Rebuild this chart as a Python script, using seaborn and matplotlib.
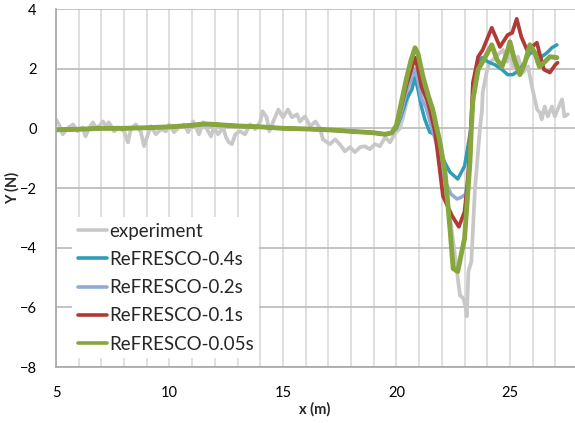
import numpy as np
import pandas as pd
import matplotlib
matplotlib.use("Agg")
import matplotlib.pyplot as plt
import seaborn as sns
from matplotlib.ticker import MultipleLocator

# ---------------- data ----------------
exp_x = [5.0, 5.13, 5.3, 5.5, 5.75, 5.95, 6.17, 6.3, 6.45, 6.63, 6.76, 6.9, 7.07, 7.2, 7.33, 7.56, 7.77,
         8.0, 8.17, 8.3, 8.52, 8.74, 8.88, 9.05, 9.18, 9.4, 9.62, 9.85, 9.98, 10.2, 10.42, 10.64, 10.82,
         11.04, 11.17, 11.3, 11.48, 11.7, 11.83, 11.96, 12.14, 12.36, 12.49, 12.62, 12.75, 12.9, 13.1,
         13.33, 13.55, 13.77, 14.0, 14.1, 14.28, 14.4, 14.65, 14.8, 15.0, 15.22, 15.4, 15.62, 15.75,
         15.97, 16.2, 16.43, 16.63, 16.76, 17.07, 17.3, 17.5, 17.73, 17.95, 18.17, 18.4, 18.6, 18.83,
         19.05, 19.27, 19.5, 19.72, 19.94, 20.15, 20.3, 20.5, 20.7, 20.85, 21.0, 21.2, 21.4, 21.6, 21.8,
         22.0, 22.2, 22.4, 22.6, 22.8, 22.95, 23.05, 23.1, 23.17, 23.3, 23.46, 23.68, 23.77, 23.8,
         23.97, 24.1, 24.25, 24.47, 24.7, 24.88, 25.0, 25.15, 25.35, 25.57, 25.8, 25.97, 26.1, 26.2,
         26.32, 26.4, 26.53, 26.67, 26.85, 26.98, 27.1, 27.3, 27.4, 27.55]
exp_y = [0.3, 0.13, -0.2, 0.0, 0.13, -0.1, 0.03, -0.27, 0.0, 0.2, 0.03, 0.07, 0.23, 0.07, 0.2, -0.1, 0.03,
         -0.1, -0.47, -0.03, 0.13, -0.13, -0.6, -0.2, 0.07, -0.2, -0.03, -0.1, 0.13, -0.13, 0.03, 0.13, -0.13,
         0.23, 0.03, -0.2, 0.2, -0.1, -0.27, 0.03, -0.2, 0.03, -0.3, -0.47, -0.53, -0.2, -0.1,
         -0.2, 0.13, -0.03, 0.23, 0.57, 0.37, -0.1, 0.37, 0.63, 0.37, 0.63, 0.37, 0.47, 0.23,
         0.4, 0.07, 0.23, 0.0, -0.37, -0.53, -0.37, -0.53, -0.77, -0.63, -0.8, -0.63, -0.6, -0.7,
         -0.53, -0.6, -0.3, -0.47, -0.17, 0.0, 0.4, 1.0, 1.6, 1.9, 1.7, 1.1, 0.5, 0.0, -0.5,
         -1.3, -2.2, -3.2, -4.4, -5.6, -5.7, -6.0, -6.3, -4.8, -4.47, -2.03, 0.0, 0.63, 1.2,
         1.87, 2.2, 2.3, 2.47, 2.63, 2.23, 2.63, 2.0, 2.4, 1.87, 2.07, 1.4, 0.97, 0.63,
         0.53, 0.3, 0.73, 0.4, 0.73, 0.4, 0.63, 0.97, 0.4, 0.47]

r04_x = [5, 6, 7, 8, 9, 10, 11, 11.5, 12, 13, 14, 15, 16, 17, 18, 19, 19.5, 19.8, 20.0, 20.2, 20.46,
         20.68, 20.82, 20.95, 21.1, 21.25, 21.47, 21.8, 22.05, 22.36, 22.7, 23.0, 23.15, 23.28, 23.4,
         23.6, 23.77, 24.03, 24.34, 24.65, 24.9, 25.13, 25.44, 25.66, 25.88, 26.19, 26.4, 26.63, 26.85, 27.07]
r04_y = [-0.05, -0.03, 0.0, 0.0, 0.02, 0.05, 0.1, 0.13, 0.12, 0.08, 0.05, 0.0, -0.02, -0.05, -0.1, -0.15, -0.2,
         -0.15, 0.0, 0.4, 1.0, 1.3, 1.7, 1.3, 0.73, 0.3, -0.13, -0.25, -1.03, -1.47, -1.7, -1.27, -0.6, 0.0, 1.0,
         2.2, 2.37, 2.23, 2.13, 1.97, 1.8, 1.8, 1.97, 2.23, 2.53, 2.53, 2.4, 2.53, 2.7, 2.8]

r02_x = [5, 6, 7, 8, 9, 10, 11, 11.5, 12, 13, 14, 15, 16, 17, 18, 19, 19.5, 19.8, 20.0, 20.2, 20.46,
         20.82, 20.95, 21.1, 21.3, 21.6, 21.8, 22.05, 22.4, 22.67, 22.88, 23.05, 23.15, 23.28, 23.37,
         23.6, 23.9, 24.2, 24.43, 24.65, 24.87, 25.0, 25.2, 25.44, 25.66, 25.88, 26.1, 26.3, 26.5, 26.76, 27.07]
r02_y = [-0.05, -0.03, 0.0, 0.0, 0.02, 0.05, 0.1, 0.14, 0.12, 0.08, 0.05, 0.0, -0.02, -0.05, -0.1, -0.15, -0.2,
         -0.15, 0.05, 0.5, 1.3, 2.0, 1.6, 1.0, 0.7, -0.1, -0.6, -1.6, -2.2, -2.37, -2.3, -2.2, -1.7, 0.0, 0.97,
         1.97, 2.37, 2.8, 2.3, 2.05, 2.55, 2.9, 2.3, 1.8, 2.2, 2.8, 2.5, 2.05, 2.2, 2.4, 2.35]

r01_x = [5, 6, 7, 8, 9, 10, 11, 11.5, 12, 13, 14, 15, 16, 17, 18, 19, 19.5, 19.8, 20.0, 20.15, 20.46,
         20.82, 20.95, 21.1, 21.34, 21.47, 21.7, 21.78, 22.05, 22.45, 22.75, 23.0, 23.15, 23.28, 23.37,
         23.6, 23.8, 24.2, 24.56, 24.9, 25.1, 25.3, 25.5, 25.75, 25.97, 26.19, 26.3, 26.5, 26.76, 27.0, 27.1]
r01_y = [-0.05, -0.03, 0.0, 0.0, 0.02, 0.05, 0.1, 0.15, 0.13, 0.08, 0.05, 0.0, -0.02, -0.05, -0.1, -0.15, -0.2,
         -0.15, 0.1, 0.55, 1.5, 2.37, 2.0, 1.4, 0.97, 0.63, -0.13, -0.6, -2.27, -2.93, -3.3, -2.8, -1.7, 0.0, 1.53,
         2.4, 2.63, 3.37, 2.73, 3.13, 3.2, 3.67, 3.07, 2.63, 2.73, 2.87, 2.53, 1.97, 1.87, 2.13, 2.2]

r005_x = [5, 6, 7, 8, 9, 10, 11, 11.5, 12, 13, 14, 15, 16, 17, 18, 19, 19.5, 19.8, 20.0, 20.15, 20.46,
          20.65, 20.82, 20.95, 21.17, 21.4, 21.6, 21.75, 21.9, 22.14, 22.36, 22.5, 22.7, 22.88, 23.0, 23.24,
          23.3, 23.37, 23.6, 23.9, 24.2, 24.43, 24.65, 24.87, 25.0, 25.2, 25.44, 25.66, 25.88, 26.1, 26.3,
          26.5, 26.76, 27.07]
r005_y = [-0.05, -0.03, 0.0, 0.0, 0.02, 0.05, 0.1, 0.15, 0.13, 0.08, 0.05, 0.0, -0.02, -0.05, -0.1, -0.15, -0.2,
          -0.15, 0.1, 0.63, 1.73, 2.3, 2.7, 2.5, 1.73, 1.1, 0.63, 0.1, -0.4, -1.47, -3.37, -4.7, -4.8, -4.13, -3.7,
          -1.13, 0.0, 0.97, 1.97, 2.37, 2.8, 2.3, 2.07, 2.53, 2.9, 2.3, 1.8, 2.2, 2.8, 2.53, 2.07,
          2.2, 2.4, 2.37]

labels = ["experiment", "ReFRESCO-0.4s", "ReFRESCO-0.2s", "ReFRESCO-0.1s", "ReFRESCO-0.05s"]
colors = ["#c8c8c8", "#2f9db5", "#8fabd6", "#b03a36", "#87a63d"]
widths = [2.7, 2.5, 2.5, 2.7, 3.5]
series = [(exp_x, exp_y), (r04_x, r04_y), (r02_x, r02_y), (r01_x, r01_y), (r005_x, r005_y)]

# ---------------- plot ----------------
sns.set_theme(style="white")
plt.rcParams['font.family'] = ['Lato', 'DejaVu Sans']

W, H = 575, 423
fig = plt.figure(figsize=(W / 100, H / 100), dpi=100)
left, right, top, bottom = 56, 578, 9, 367
ax = fig.add_axes([left / W, 1 - bottom / H, (right - left) / W, (bottom - top) / H])

for (xs, ys), lab, col, lw in zip(series, labels, colors, widths):
    sns.lineplot(x=xs, y=ys, ax=ax, color=col, linewidth=lw, label=lab,
                 sort=False, estimator=None, solid_joinstyle="round")

ax.set_xlim(5, 28)
ax.set_ylim(-8, 4)
ax.xaxis.set_major_locator(MultipleLocator(5))
ax.xaxis.set_minor_locator(MultipleLocator(1))
ax.yaxis.set_major_locator(MultipleLocator(2))
ax.grid(False)
ax.grid(which="minor", axis="x", color="#d9d9d9", linewidth=1.2)
ax.grid(which="major", axis="x", color="#d9d9d9", linewidth=1.2)
ax.grid(which="major", axis="y", color="#b9b9b9", linewidth=1.2)
ax.set_axisbelow(True)
for s in ["top", "right"]:
    ax.spines[s].set_visible(False)
for s in ["left", "bottom"]:
    ax.spines[s].set_color("#a6a6a6")
    ax.spines[s].set_linewidth(1.2)
ax.tick_params(axis="both", which="both", length=0, labelsize=10.5, colors="black")
ax.tick_params(axis="x", pad=14)
ax.tick_params(axis="y", pad=14)

ax.set_xlabel("x (m)", fontsize=10.5, fontweight="bold")
ax.set_ylabel("Y (N)", fontsize=10.5, fontweight="bold")
ax.xaxis.set_label_coords((315 - left) / (right - left), -(402 - bottom) / (bottom - top))
ax.yaxis.set_label_coords(-(56 - 20) / (right - left), (bottom - 188) / (bottom - top))

leg = ax.legend(loc="upper left", bbox_to_anchor=(72 / W, 1 - 217 / H),
                bbox_transform=fig.transFigure, fontsize=13.5, frameon=True,
                facecolor="white", edgecolor="none", framealpha=1, fancybox=False,
                handlelength=1.55, handletextpad=0.12, labelspacing=0.6, borderpad=0.3,
                borderaxespad=0)
for line in leg.get_lines():
    line.set_linewidth(2.6)

fig.savefig("out.png", dpi=100)
